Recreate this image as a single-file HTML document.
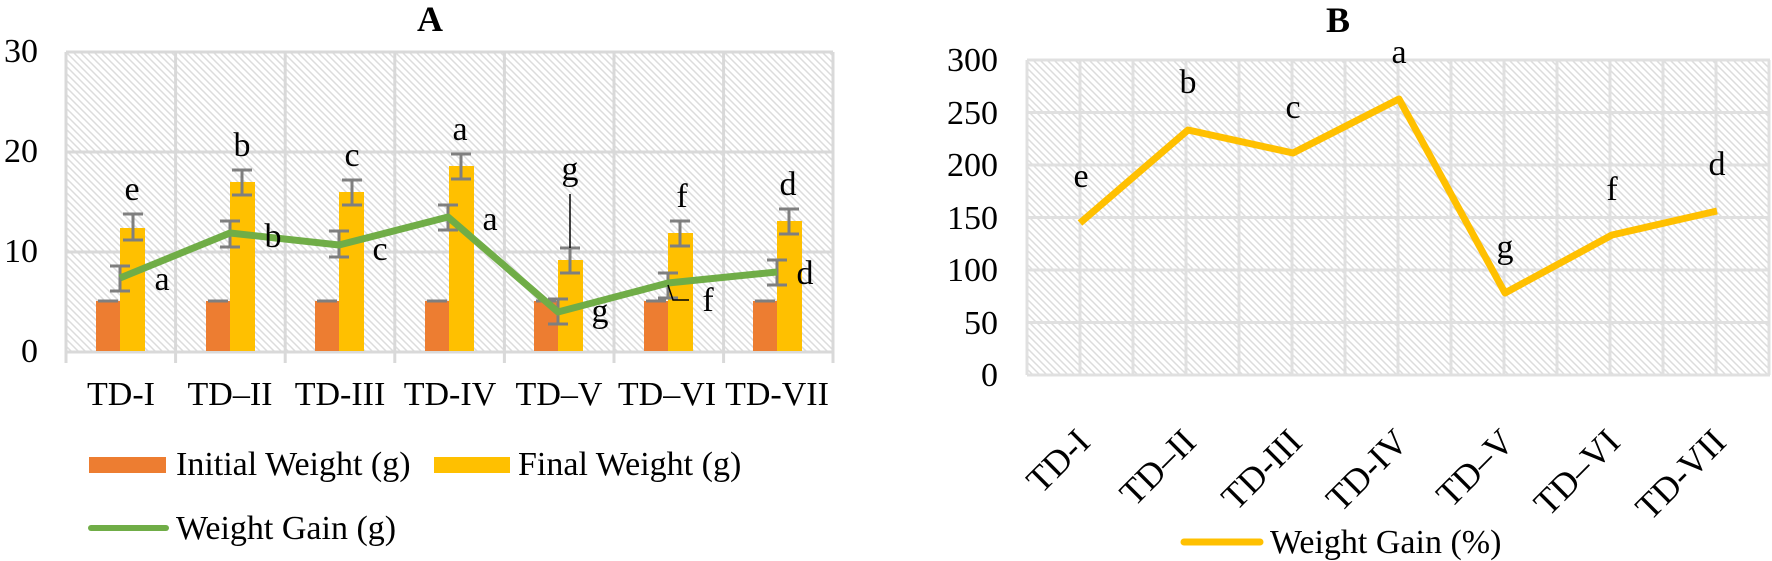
<!DOCTYPE html>
<html><head><meta charset="utf-8"><style>
html,body{margin:0;padding:0;background:#fff;}
svg{display:block;}
text{font-family:"Liberation Serif",serif;fill:#000;}
</style></head><body>
<svg width="1772" height="561" viewBox="0 0 1772 561" xmlns="http://www.w3.org/2000/svg">
<defs>
<pattern id="h" width="7" height="7" patternUnits="userSpaceOnUse">
<rect width="7" height="7" fill="#fff"/>
<path d="M-1,-1 L8,8 M-1,6 L1,8 M6,-1 L8,1" stroke="#dcdcdc" stroke-width="1.5"/>
</pattern>
</defs>

<!-- ===== Chart A ===== -->
<text x="430" y="31" font-size="36" font-weight="bold" text-anchor="middle">A</text>
<rect x="66" y="52" width="767" height="299" fill="url(#h)"/>
<g stroke="#d9d9d9" stroke-width="3" fill="none">
<line x1="66" y1="52" x2="833" y2="52"/>
<line x1="66" y1="152" x2="833" y2="152"/>
<line x1="66" y1="252" x2="833" y2="252"/>
<line x1="66" y1="352" x2="833" y2="352"/>
<line x1="66" y1="52" x2="66" y2="363"/>
<line x1="175.6" y1="52" x2="175.6" y2="363"/>
<line x1="285.2" y1="52" x2="285.2" y2="363"/>
<line x1="394.8" y1="52" x2="394.8" y2="363"/>
<line x1="504.4" y1="52" x2="504.4" y2="363"/>
<line x1="614" y1="52" x2="614" y2="363"/>
<line x1="723.6" y1="52" x2="723.6" y2="363"/>
<line x1="833" y1="52" x2="833" y2="363"/>
</g>
<g font-size="34" text-anchor="end">
<text x="38" y="62">30</text><text x="38" y="162">20</text><text x="38" y="262">10</text><text x="38" y="362">0</text>
</g>
<g fill="#ed7d31">
<rect x="96" y="301" width="24" height="50"/><rect x="206" y="301" width="24" height="50"/>
<rect x="315" y="301" width="24" height="50"/><rect x="425" y="301" width="24" height="50"/>
<rect x="534" y="301" width="24" height="50"/><rect x="644" y="301" width="24" height="50"/>
<rect x="753" y="301" width="24" height="50"/>
</g>
<g fill="#ffc000">
<rect x="120" y="228" width="25" height="123"/><rect x="230" y="182" width="25" height="169"/>
<rect x="339" y="192" width="25" height="159"/><rect x="449" y="166" width="25" height="185"/>
<rect x="558" y="260" width="25" height="91"/><rect x="668" y="233" width="25" height="118"/>
<rect x="777" y="221" width="25" height="130"/>
</g>
<g stroke="#7f7f7f" stroke-width="3">
<line x1="98" y1="301" x2="118" y2="301"/><line x1="208" y1="301" x2="228" y2="301"/>
<line x1="317" y1="301" x2="337" y2="301"/><line x1="427" y1="301" x2="447" y2="301"/>
<line x1="536" y1="301" x2="556" y2="301"/><line x1="646" y1="301" x2="666" y2="301"/>
<line x1="755" y1="301" x2="775" y2="301"/>
</g>
<g stroke="#7f7f7f" stroke-width="3" fill="none">
<path d="M133,214V240M123,214H143M123,240H143"/>
<path d="M242,170V195M232,170H252M232,195H252"/>
<path d="M352,180V205M342,180H362M342,205H362"/>
<path d="M461,154V179M451,154H471M451,179H471"/>
<path d="M570,248V273M560,248H580M560,273H580"/>
<path d="M680,221V246M670,221H690M670,246H690"/>
<path d="M789,209V234M779,209H799M779,234H799"/>
</g>
<line x1="570" y1="194" x2="570" y2="248" stroke="#000" stroke-width="1.5"/>
<g stroke="#7f7f7f" stroke-width="3" fill="none">
<path d="M120,266V291M110,266H130M110,291H130"/>
<path d="M230,221V247M220,221H240M220,247H240"/>
<path d="M339,231V257M329,231H349M329,257H349"/>
<path d="M448,205V230M438,205H458M438,230H458"/>
<path d="M558,299V324M548,299H568M548,324H568"/>
<path d="M668,273V298M658,273H678M658,298H678"/>
<path d="M777,260V285M767,260H787M767,285H787"/>
</g>
<polyline points="120,278 230,233 339,245 448,217 558,312 668,283 777,272" fill="none" stroke="#70ad47" stroke-width="7" stroke-linejoin="round"/>
<path d="M668,285 L673,300 H689" stroke="#000" stroke-width="1.5" fill="none"/>
<g font-size="34" text-anchor="middle">
<text x="132" y="200">e</text><text x="242" y="156">b</text><text x="352" y="166">c</text>
<text x="460" y="140">a</text><text x="570" y="180">g</text><text x="682" y="207">f</text><text x="788" y="195">d</text>
<text x="162" y="290">a</text><text x="273" y="247">b</text><text x="380" y="260">c</text>
<text x="490" y="230">a</text><text x="600" y="322">g</text><text x="708" y="311">f</text><text x="805" y="284">d</text>
</g>
<g font-size="34" text-anchor="middle">
<text x="121" y="405">TD-I</text><text x="230" y="405">TD–II</text><text x="340" y="405">TD-III</text>
<text x="450" y="405">TD-IV</text><text x="559" y="405">TD–V</text><text x="667" y="405">TD–VI</text><text x="777" y="405">TD-VII</text>
</g>
<rect x="89" y="457" width="77" height="16" fill="#ed7d31"/>
<text x="176" y="475" font-size="34">Initial Weight (g)</text>
<rect x="434" y="457" width="76" height="16" fill="#ffc000"/>
<text x="518" y="475" font-size="34">Final Weight (g)</text>
<line x1="91" y1="528" x2="166" y2="528" stroke="#70ad47" stroke-width="6" stroke-linecap="round"/>
<text x="176" y="539" font-size="34">Weight Gain (g)</text>

<!-- ===== Chart B ===== -->
<text x="1338" y="32" font-size="36" font-weight="bold" text-anchor="middle">B</text>
<rect x="1027" y="60" width="743" height="315" fill="url(#h)"/>
<g stroke="#e0e0e0" stroke-width="3" fill="none">
<line x1="1027" y1="60" x2="1770" y2="60"/><line x1="1027" y1="112.5" x2="1770" y2="112.5"/>
<line x1="1027" y1="165" x2="1770" y2="165"/><line x1="1027" y1="217.5" x2="1770" y2="217.5"/>
<line x1="1027" y1="270" x2="1770" y2="270"/><line x1="1027" y1="322.5" x2="1770" y2="322.5"/>
<line x1="1027" y1="375" x2="1770" y2="375"/>
<line x1="1027" y1="60" x2="1027" y2="375"/><line x1="1080" y1="60" x2="1080" y2="375"/>
<line x1="1133" y1="60" x2="1133" y2="375"/><line x1="1186" y1="60" x2="1186" y2="375"/>
<line x1="1239" y1="60" x2="1239" y2="375"/><line x1="1292" y1="60" x2="1292" y2="375"/>
<line x1="1345" y1="60" x2="1345" y2="375"/><line x1="1398" y1="60" x2="1398" y2="375"/>
<line x1="1451" y1="60" x2="1451" y2="375"/><line x1="1504" y1="60" x2="1504" y2="375"/>
<line x1="1557" y1="60" x2="1557" y2="375"/><line x1="1610" y1="60" x2="1610" y2="375"/>
<line x1="1663" y1="60" x2="1663" y2="375"/><line x1="1716" y1="60" x2="1716" y2="375"/>
<line x1="1769" y1="60" x2="1769" y2="375"/>
</g>
<g font-size="34" text-anchor="end">
<text x="998" y="71">300</text><text x="998" y="124">250</text><text x="998" y="176">200</text>
<text x="998" y="229">150</text><text x="998" y="281">100</text><text x="998" y="334">50</text><text x="998" y="386">0</text>
</g>
<polyline points="1080,223 1188,130 1293,153 1399,99 1505,293 1612,235 1717,211" fill="none" stroke="#ffc000" stroke-width="7" stroke-linejoin="round"/>
<g font-size="34" text-anchor="middle">
<text x="1081" y="187">e</text><text x="1188" y="93">b</text><text x="1293" y="118">c</text>
<text x="1399" y="63">a</text><text x="1505" y="258">g</text><text x="1612" y="200">f</text><text x="1717" y="175">d</text>
</g>
<g font-size="36" text-anchor="end">
<text transform="translate(1092,444) rotate(-45)">TD-I</text>
<text transform="translate(1198,444) rotate(-45)">TD–II</text>
<text transform="translate(1304,444) rotate(-45)">TD-III</text>
<text transform="translate(1410,444) rotate(-45)">TD-IV</text>
<text transform="translate(1516,444) rotate(-45)">TD–V</text>
<text transform="translate(1622,444) rotate(-45)">TD–VI</text>
<text transform="translate(1728,444) rotate(-45)">TD-VII</text>
</g>
<line x1="1184" y1="542" x2="1260" y2="542" stroke="#ffc000" stroke-width="7" stroke-linecap="round"/>
<text x="1270" y="553" font-size="34">Weight Gain (%)</text>
</svg>
</body></html>
